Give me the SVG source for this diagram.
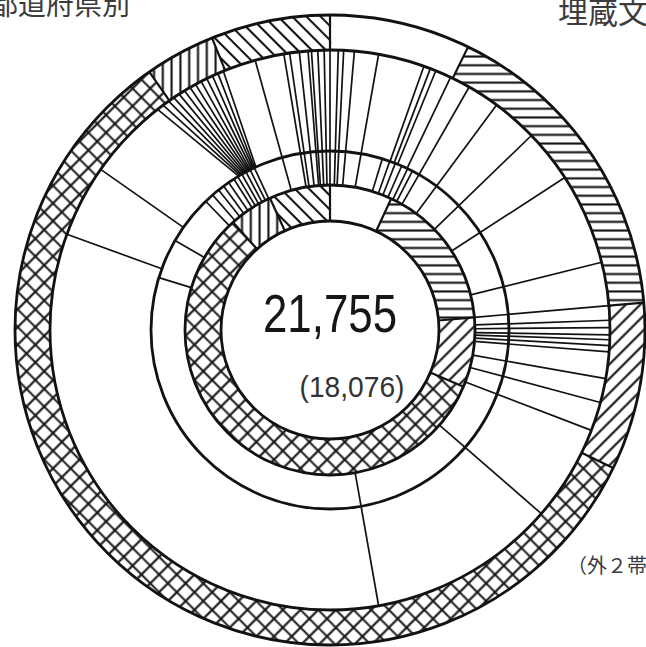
<svg xmlns="http://www.w3.org/2000/svg" width="646" height="647" viewBox="0 0 646 647">
<defs>
<style>
.c{fill:none;stroke:#121212;stroke-width:2.8}
.l{fill:none;stroke:#121212;stroke-width:1.7}
.b{fill:none;stroke:#121212;stroke-width:2.2}
.s1{fill:none;stroke-width:36}
.s2{fill:none;stroke-width:35}
.jp{font-family:"Noto Sans CJK JP",sans-serif;fill:#3c3c3c}
.num{font-family:"Liberation Sans",Arial,sans-serif}
</style>
<pattern id="ph" patternUnits="userSpaceOnUse" width="10" height="8.7"><rect width="10" height="8.7" fill="#fff"/><path d="M0 4.35H10" stroke="#121212" stroke-width="2.1"/></pattern>
<pattern id="pv" patternUnits="userSpaceOnUse" width="8.8" height="10"><rect width="8.8" height="10" fill="#fff"/><path d="M4.4 0V10" stroke="#121212" stroke-width="2.1"/></pattern>
<pattern id="pf" patternUnits="userSpaceOnUse" width="10" height="10.2" patternTransform="rotate(-45)"><rect width="10" height="10.2" fill="#fff"/><path d="M0 5.1H10" stroke="#121212" stroke-width="2.1"/></pattern>
<pattern id="pb" patternUnits="userSpaceOnUse" width="10" height="10" patternTransform="rotate(45)"><rect width="10" height="10" fill="#fff"/><path d="M0 5H10" stroke="#121212" stroke-width="2.1"/></pattern>
<pattern id="px" patternUnits="userSpaceOnUse" width="12.5" height="12.5" patternTransform="rotate(45)"><rect width="12.5" height="12.5" fill="#fff"/><path d="M6.25 0V12.5M0 6.25H12.5" stroke="#121212" stroke-width="2.1"/></pattern>
<path id="L13" d="M330 185V50"/>
<path id="L12" d="M330 185V151"/>
<path id="L23" d="M330 151V50"/>
<path id="L01" d="M330 221V185"/>
<path id="L34" d="M330 50V15"/>
</defs>
<rect width="646" height="647" fill="#fff"/>

<g id="ring-inner">
<circle cx="330" cy="330" r="127" pathLength="360" class="s1" stroke="url(#pb)" stroke-dasharray="24.5 335.5" stroke-dashoffset="114.5"/>
<circle cx="330" cy="330" r="127" pathLength="360" class="s1" stroke="url(#ph)" stroke-dasharray="60 300" stroke-dashoffset="65"/>
<circle cx="330" cy="330" r="127" pathLength="360" class="s1" stroke="url(#pf)" stroke-dasharray="28 332" stroke-dashoffset="5"/>
<circle cx="330" cy="330" r="127" pathLength="360" class="s1" stroke="url(#px)" stroke-dasharray="205 155" stroke-dashoffset="337"/>
<circle cx="330" cy="330" r="127" pathLength="360" class="s1" stroke="url(#pv)" stroke-dasharray="17.5 342.5" stroke-dashoffset="132"/>
<use href="#L01" class="b" transform="rotate(-24.5 330 330)"/>
<use href="#L01" class="b"/>
<use href="#L01" class="b" transform="rotate(25 330 330)"/>
<use href="#L01" class="b" transform="rotate(85 330 330)"/>
<use href="#L01" class="b" transform="rotate(113 330 330)"/>
<use href="#L01" class="b" transform="rotate(-42 330 330)"/>
</g>

<g id="ring-outer">
<circle cx="330" cy="330" r="297.5" pathLength="360" class="s2" stroke="url(#pb)" stroke-dasharray="22 338" stroke-dashoffset="112"/>
<circle cx="330" cy="330" r="297.5" pathLength="360" class="s2" stroke="url(#ph)" stroke-dasharray="59 301" stroke-dashoffset="64"/>
<circle cx="330" cy="330" r="297.5" pathLength="360" class="s2" stroke="url(#pf)" stroke-dasharray="31 329" stroke-dashoffset="5"/>
<circle cx="330" cy="330" r="297.5" pathLength="360" class="s2" stroke="url(#px)" stroke-dasharray="209 151" stroke-dashoffset="334"/>
<circle cx="330" cy="330" r="297.5" pathLength="360" class="s2" stroke="url(#pv)" stroke-dasharray="13 347" stroke-dashoffset="125"/>
<use href="#L34" class="b" transform="rotate(-22 330 330)"/>
<use href="#L34" class="b"/>
<use href="#L34" class="b" transform="rotate(26 330 330)"/>
<use href="#L34" class="b" transform="rotate(85 330 330)"/>
<use href="#L34" class="b" transform="rotate(116 330 330)"/>
<use href="#L34" class="b" transform="rotate(-35 330 330)"/>
</g>

<g id="dividers">
<use href="#L13" class="l" transform="rotate(-15.5 330 330)"/>
<use href="#L13" class="l" transform="rotate(-9.5 330 330)"/>
<use href="#L13" class="l" transform="rotate(-8.3 330 330)"/>
<use href="#L13" class="l" transform="rotate(-6.3 330 330)"/>
<use href="#L13" class="l" transform="rotate(-4.5 330 330)"/>
<use href="#L13" class="l" transform="rotate(-3.8 330 330)"/>
<use href="#L13" class="l" transform="rotate(-2.5 330 330)"/>
<use href="#L13" class="l" transform="rotate(-1.2 330 330)"/>
<use href="#L13" class="l"/>
<use href="#L13" class="l" transform="rotate(1.7 330 330)"/>
<use href="#L13" class="l" transform="rotate(2.8 330 330)"/>
<use href="#L13" class="l" transform="rotate(5 330 330)"/>
<use href="#L13" class="l" transform="rotate(10 330 330)"/>
<use href="#L13" class="l" transform="rotate(29.8 330 330)"/>
<use href="#L13" class="l" transform="rotate(36.5 330 330)"/>
<use href="#L13" class="l" transform="rotate(46 330 330)"/>
<use href="#L13" class="l" transform="rotate(57 330 330)"/>
<use href="#L13" class="l" transform="rotate(76 330 330)"/>
<use href="#L13" class="l" transform="rotate(85 330 330)"/>
<use href="#L13" class="l" transform="rotate(88 330 330)"/>
<use href="#L13" class="l" transform="rotate(89.5 330 330)"/>
<use href="#L13" class="l" transform="rotate(91 330 330)"/>
<use href="#L13" class="l" transform="rotate(92 330 330)"/>
<use href="#L13" class="l" transform="rotate(93.2 330 330)"/>
<use href="#L13" class="l" transform="rotate(94.5 330 330)"/>
<use href="#L13" class="l" transform="rotate(100 330 330)"/>
<use href="#L13" class="l" transform="rotate(105 330 330)"/>
<use href="#L13" class="l" transform="rotate(111 330 330)"/>
<use href="#L13" class="l" transform="rotate(131 330 330)"/>
<use href="#L13" class="l" transform="rotate(170 330 330)"/>

<use href="#L23" class="l" transform="rotate(-70 330 330)"/>
<use href="#L23" class="l" transform="rotate(-55 330 330)"/>
<use href="#L23" class="l" transform="rotate(19.6 330 330)"/>
<use href="#L23" class="l" transform="rotate(21 330 330)"/>
<use href="#L23" class="l" transform="rotate(22.2 330 330)"/>
<use href="#L23" class="l" transform="rotate(25.5 330 330)"/>

<use href="#L12" class="l" transform="rotate(-73 330 330)"/>
<use href="#L12" class="l" transform="rotate(-60 330 330)"/>
<use href="#L12" class="l" transform="rotate(17 330 330)"/>
<use href="#L12" class="l" transform="rotate(19.5 330 330)"/>
<use href="#L12" class="l" transform="rotate(21.4 330 330)"/>
<use href="#L12" class="l" transform="rotate(23.6 330 330)"/>
<use href="#L12" class="l" transform="rotate(25.7 330 330)"/>
<use href="#L12" class="l" transform="rotate(27.4 330 330)"/>
<use href="#L12" class="l" transform="rotate(-44 330 330)"/>
<use href="#L12" class="l" transform="rotate(-41 330 330)"/>
<use href="#L12" class="l" transform="rotate(-38.5 330 330)"/>
<use href="#L12" class="l" transform="rotate(-36.5 330 330)"/>
<use href="#L12" class="l" transform="rotate(-34.5 330 330)"/>
<use href="#L12" class="l" transform="rotate(-32.5 330 330)"/>
<use href="#L12" class="l" transform="rotate(-31 330 330)"/>
<use href="#L12" class="l" transform="rotate(-29.5 330 330)"/>
<use href="#L12" class="l" transform="rotate(-28 330 330)"/>
<use href="#L12" class="l" transform="rotate(-26.5 330 330)"/>
<use href="#L12" class="l" transform="rotate(-25 330 330)"/>

<path class="l" d="M157.6 109.4L238.6 176.1M163.1 105.2L240.1 175.2M168.6 101.2L241.6 174.3M173.8 97.6L243.1 173.5M179.1 94.1L244.5 172.7M184.5 90.7L245.9 172M190 87.5L247.4 171.2M195.5 84.4L248.8 170.5M201.1 81.4L250.2 169.8M206.8 78.6L251.7 169M212.5 75.8L253.2 168.3M217.9 73.4L254.5 167.7M223.3 71.1L255.9 167.1"/>
</g>

<g id="circles">
<circle class="c" cx="330" cy="330" r="109"/>
<circle class="c" cx="330" cy="330" r="145"/>
<circle class="c" cx="330" cy="330" r="179"/>
<circle class="c" cx="330" cy="330" r="280"/>
<circle class="c" cx="330" cy="330" r="315"/>
</g>

<g id="labels">
<text class="num" x="330" y="332" font-size="54" fill="#161616" text-anchor="middle" textLength="134" lengthAdjust="spacingAndGlyphs">21,755</text>
<text class="num" x="352" y="397" font-size="30" fill="#333" text-anchor="middle" textLength="105" lengthAdjust="spacingAndGlyphs">(18,076)</text>
<text class="jp" x="-10" y="15" font-size="28">都道府県別</text>
<text class="jp" x="558" y="23" font-size="30">埋蔵文</text>
<text class="jp" x="567" y="573" font-size="20" fill="#666">（外２帯</text>
</g>
</svg>
